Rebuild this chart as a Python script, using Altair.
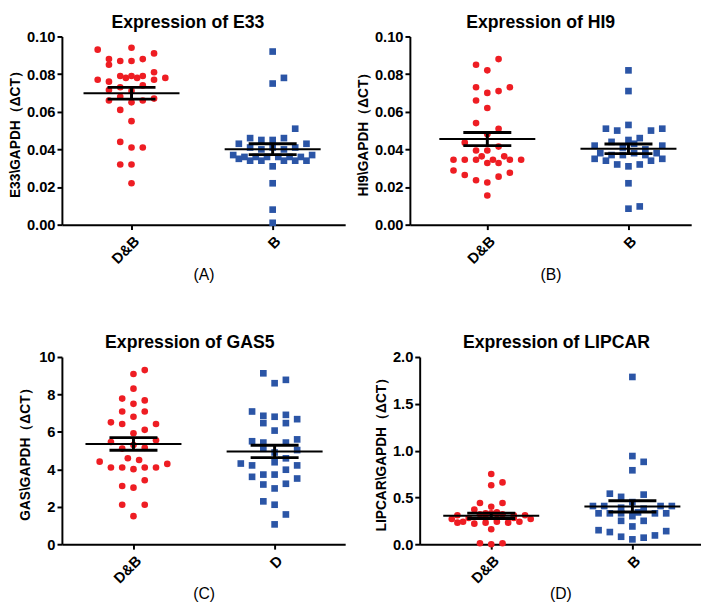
import altair as alt
import pandas as pd

RED = "#EE1D23"
BLUE = "#2B55A6"
FONT = "Liberation Sans"

# ---------------- data ----------------
# (A) E33
e33_db_vals = [0.093, 0.094, 0.091, 0.088, 0.087, 0.087, 0.088, 0.085, 0.081,
               0.077, 0.076, 0.079, 0.078, 0.079, 0.078, 0.079, 0.077, 0.078,
               0.0715, 0.073, 0.074, 0.071, 0.066, 0.068, 0.065, 0.066, 0.067,
               0.061, 0.055, 0.044, 0.041, 0.041, 0.032, 0.032, 0.022]
e33_db_slot = [-3, 0, 2, -2, -1, 0, 1, -2, 2,
               -3, -2, -1, -0.5, 0, 0.5, 1, 2, 3,
               -2, -1, 1, 0, -2, -1, 0, 1, 2,
               -1, 0, -1, 0, 1, -1, 0, 0]
e33_b_vals = [0.092, 0.075, 0.078, 0.051,
              0.043, 0.046, 0.045, 0.045, 0.046, 0.043,
              0.041, 0.040, 0.041, 0.040, 0.041,
              0.037, 0.035, 0.036, 0.034, 0.036, 0.034, 0.036, 0.031,
              0.036, 0.034, 0.036, 0.034, 0.036, 0.034, 0.037,
              0.022, 0.008, 0.001]
e33_b_slot = [0, 0, 1, 2,
              -3, -2, -1, 0, 1, 3,
              -2, -1, 0, 1, 2,
              -3.5, -3, -2.5, -2, -1.5, -1, -0.5, 0,
              0.5, 1, 1.5, 2, 2.5, 3, 3.5,
              0, 0, 0]

# (B) HI9
hi9_db_vals = [0.088, 0.085, 0.082, 0.073, 0.070, 0.071, 0.073, 0.066, 0.062,
               0.054, 0.051, 0.048, 0.0436, 0.0394, 0.0394, 0.0415, 0.0363,
               0.0345, 0.0345, 0.0345, 0.0345, 0.0363, 0.0345, 0.0345,
               0.0328, 0.0328, 0.0288, 0.0264, 0.0236, 0.0224, 0.0255, 0.0276, 0.0155]
hi9_db_slot = [1, -1, 0, -1, 0, 1, 2, -1, 0,
               -1, 1, 0, -2, -1, 0, 1, -0.5,
               -1, -3, -2, 0.5, 1.5, 2, 3,
               0, 1, -3, -2, -1, 0, 1, 2, 0]
hi9_b_vals = [0.082, 0.071, 0.053, 0.051, 0.050, 0.050, 0.051, 0.046, 0.045, 0.044, 0.043,
              0.042, 0.042, 0.041, 0.040,
              0.038, 0.037, 0.037, 0.038, 0.037, 0.038,
              0.035, 0.034, 0.032, 0.031, 0.032, 0.034, 0.035,
              0.022, 0.0085, 0.0097]
hi9_b_slot = [0, 0, 0, -2, -1, 2, 3, 1, 0, -1.5, 0.5,
              -3, 3, -0.5, 1.5,
              -2.5, -1.5, -0.5, 0.5, 1.5, 2.5,
              -3, -2, -1, 0, 1, 2, 3,
              0, 0, 1]

# (C) GAS5
gas5_db_vals = [9.3, 9.09, 8.31, 7.78, 7.68, 7.5, 7.09, 7.09, 6.81, 6.51, 6.42, 6.42,
                6.11, 5.93, 5.46, 5.55, 5.11, 5.15, 5.3, 4.59, 4.5, 4.41, 4.1, 4.1,
                4.01, 4.1, 4.1, 4.29, 3.11, 3.02, 3.42, 2.11, 2.11, 1.5]
gas5_db_slot = [1, 0, 0, -1, 1, 0, -1, 1, 0, -2, -1, 2,
                1, 0, -2, 2, -1, 1, 0, -0.5, 0.5, -3, -2, -1,
                0, 1, 2, 3, -1, 0, 1, -1, 1, 0]
gas5_d_vals = [9.13, 8.60, 8.78, 7.09, 6.86, 6.47, 6.81, 6.91, 6.47, 6.68, 6.07,
               5.50, 5.43, 5.43, 5.60, 5.03, 5.1, 4.9, 4.31, 4.21, 4.38, 4.59, 4.21,
               3.98, 3.60, 3.72, 3.72, 3.51, 3.19, 3.23, 2.98, 2.29, 2.11, 1.59, 1.06]
gas5_d_slot = [-1, 0, 1, -2, -1, -1, 0, 1, 1, 2, 0,
               -2, -1, 1, 2, 2, -1, 0, -3, -2, 0, 1, 2,
               1, -2, -1, 0, 2, -1, 1, 0, -1, 0, 1, 0]

# (D) LIPCAR
lip_db_vals = [0.75, 0.63, 0.66, 0.44, 0.44, 0.40, 0.37, 0.33, 0.34,
               0.31, 0.32, 0.33, 0.32, 0.31, 0.31,
               0.27, 0.28, 0.28, 0.27, 0.28, 0.27,
               0.23, 0.24, 0.22, 0.23, 0.24, 0.23, 0.24,
               0.16, 0.01, 0.0, 0.01]
lip_db_slot = [0, 0, 1, -1, 1, 0, -1.5, -0.5, 0.5,
               -3, -1, 0, 1, 2, 3,
               -3.5, -2, -0.5, 0.5, 2, 3.5,
               -3, -2.5, -1.5, -0.5, 0.5, 1.5, 2.5,
               0, -1, 0, 1]
lip_b_vals = [1.787, 0.942, 0.88, 0.79, 0.54, 0.506, 0.53, 0.45,
              0.408, 0.408, 0.408, 0.408, 0.33, 0.33, 0.33, 0.33,
              0.25, 0.30, 0.25, 0.19, 0.15, 0.13, 0.08, 0.052, 0.07, 0.094, 0.14,
              0.39, 0.38, 0.33, 0.34]
lip_b_slot = [0, 0, 1, 0, -2, -1, 1, 0,
              -3.5, -2.5, 2.5, 3.5, -3, -2, 2, 3,
              -1, 0, 1, 0, -3, -2, -1, 0, 1, 2, 3,
              -1, 1, -1, 0.5]

PX = 144.0            # pixels per category unit
SLOT = 11.5 / PX      # beeswarm slot width in category units


def panel(db_vals, db_slot, o_vals, o_slot, other, title, ytitle, ymax, yvals, yfmt,
          label, width, height, zero_px, ytp, tdx, ytx=None):
    df = pd.DataFrame({
        "g": [0] * len(db_vals) + [1] * len(o_vals),
        "slot": db_slot + o_slot,
        "v": db_vals + o_vals,
    })
    xlo = -zero_px / PX
    xs = alt.Scale(domain=[xlo, xlo + width / PX], nice=False, zero=False)
    ys = alt.Scale(domain=[0, ymax], nice=False, zero=True)
    lab = "datum.value == 0 ? 'D&B' : '" + other + "'"

    xaxis = alt.Axis(values=[0, 1], labelExpr=lab, labelAngle=-45, title=label,
                     labelFontSize=15, titleFontWeight="normal", titleFontSize=16,
                     titlePadding=0, labelPadding=4)
    ykw = dict(values=yvals, format=yfmt, title=ytitle, titlePadding=ytp)
    if ytx is not None:
        ykw["titleX"] = ytx
    yaxis = alt.Axis(**ykw)

    base = alt.Chart(df).transform_calculate(xp="datum.g + datum.slot * " + str(SLOT))
    red = base.transform_filter("datum.g == 0").mark_point(
        shape="circle", filled=True, size=46, color=RED, opacity=1).encode(
        x=alt.X("xp:Q", scale=xs, axis=xaxis),
        y=alt.Y("v:Q", scale=ys, axis=yaxis))
    blue = base.transform_filter("datum.g == 1").mark_point(
        shape="square", filled=True, size=46, color=BLUE, opacity=1).encode(
        x=alt.X("xp:Q", scale=xs, axis=xaxis),
        y=alt.Y("v:Q", scale=ys, axis=yaxis))

    stats = alt.Chart(df).transform_aggregate(
        m="mean(v)", se="stderr(v)", groupby=["g"]).transform_calculate(
        lo="datum.m - datum.se", hi="datum.m + datum.se",
        xl="datum.g - 0.34", xr="datum.g + 0.34",
        cl="datum.g - 0.17", cr="datum.g + 0.17")
    mean_rule = stats.mark_rule(color="black", strokeWidth=2).encode(
        x=alt.X("xl:Q", scale=xs, axis=xaxis), x2="xr:Q",
        y=alt.Y("m:Q", scale=ys, axis=yaxis))
    cap_lo = stats.mark_rule(color="black", strokeWidth=3).encode(
        x=alt.X("cl:Q", scale=xs, axis=xaxis), x2="cr:Q",
        y=alt.Y("lo:Q", scale=ys, axis=yaxis))
    cap_hi = stats.mark_rule(color="black", strokeWidth=3).encode(
        x=alt.X("cl:Q", scale=xs, axis=xaxis), x2="cr:Q",
        y=alt.Y("hi:Q", scale=ys, axis=yaxis))
    vert = stats.mark_rule(color="black", strokeWidth=3).encode(
        x=alt.X("g:Q", scale=xs, axis=xaxis),
        y=alt.Y("lo:Q", scale=ys, axis=yaxis), y2="hi:Q")

    return alt.layer(red, blue, mean_rule, cap_lo, cap_hi, vert).properties(
        width=width, height=height,
        title=alt.TitleParams(title, offset=-2, dx=tdx))


pA = panel(e33_db_vals, e33_db_slot, e33_b_vals, e33_b_slot, "B",
           "Expression of E33", "E33\\GAPDH（ΔCT）", 0.10,
           [0, 0.02, 0.04, 0.06, 0.08, 0.10], ".2f", "(A)", 289, 192, 71, 4, -16)
pB = panel(hi9_db_vals, hi9_db_slot, hi9_b_vals, hi9_b_slot, "B",
           "Expression of HI9", "HI9\\GAPDH（ΔCT）", 0.10,
           [0, 0.02, 0.04, 0.06, 0.08, 0.10], ".2f", "(B)", 287, 192, 79, 4, -10)
pC = panel(gas5_db_vals, gas5_db_slot, gas5_d_vals, gas5_d_slot, "D",
           "Expression of GAS5", "GAS\\GAPDH（ΔCT）", 10,
           [0, 2, 4, 6, 8, 10], "d", "(C)", 289, 191, 73, -5, -14, -30)
pD = panel(lip_db_vals, lip_db_slot, lip_b_vals, lip_b_slot, "B",
           "Expression of LIPCAR", "LIPCAR\\GAPDH（ΔCT）", 2.0,
           [0, 0.5, 1.0, 1.5, 2.0], ".1f", "(D)", 287, 191, 73, 4, -4)

chart = alt.vconcat(
    alt.hconcat(pA, pB, spacing=11),
    alt.hconcat(pC, pD, spacing=30),
    spacing=53,
).properties(
    padding={"left": 0, "top": 0, "right": 0, "bottom": 0}
).configure_view(stroke=None).configure_axis(
    grid=False, domainColor="black", domainWidth=2, tickColor="black", tickWidth=2,
    tickSize=5, labelColor="black", labelFont=FONT, labelFontWeight="bold",
    labelFontSize=15, titleFont=FONT, titleFontWeight="bold", titleFontSize=14,
    titleColor="black"
).configure_title(
    font=FONT, fontSize=18, fontWeight="bold", color="black", anchor="middle"
)

chart.save("out.html", embed_options={"renderer": "svg", "actions": False})
